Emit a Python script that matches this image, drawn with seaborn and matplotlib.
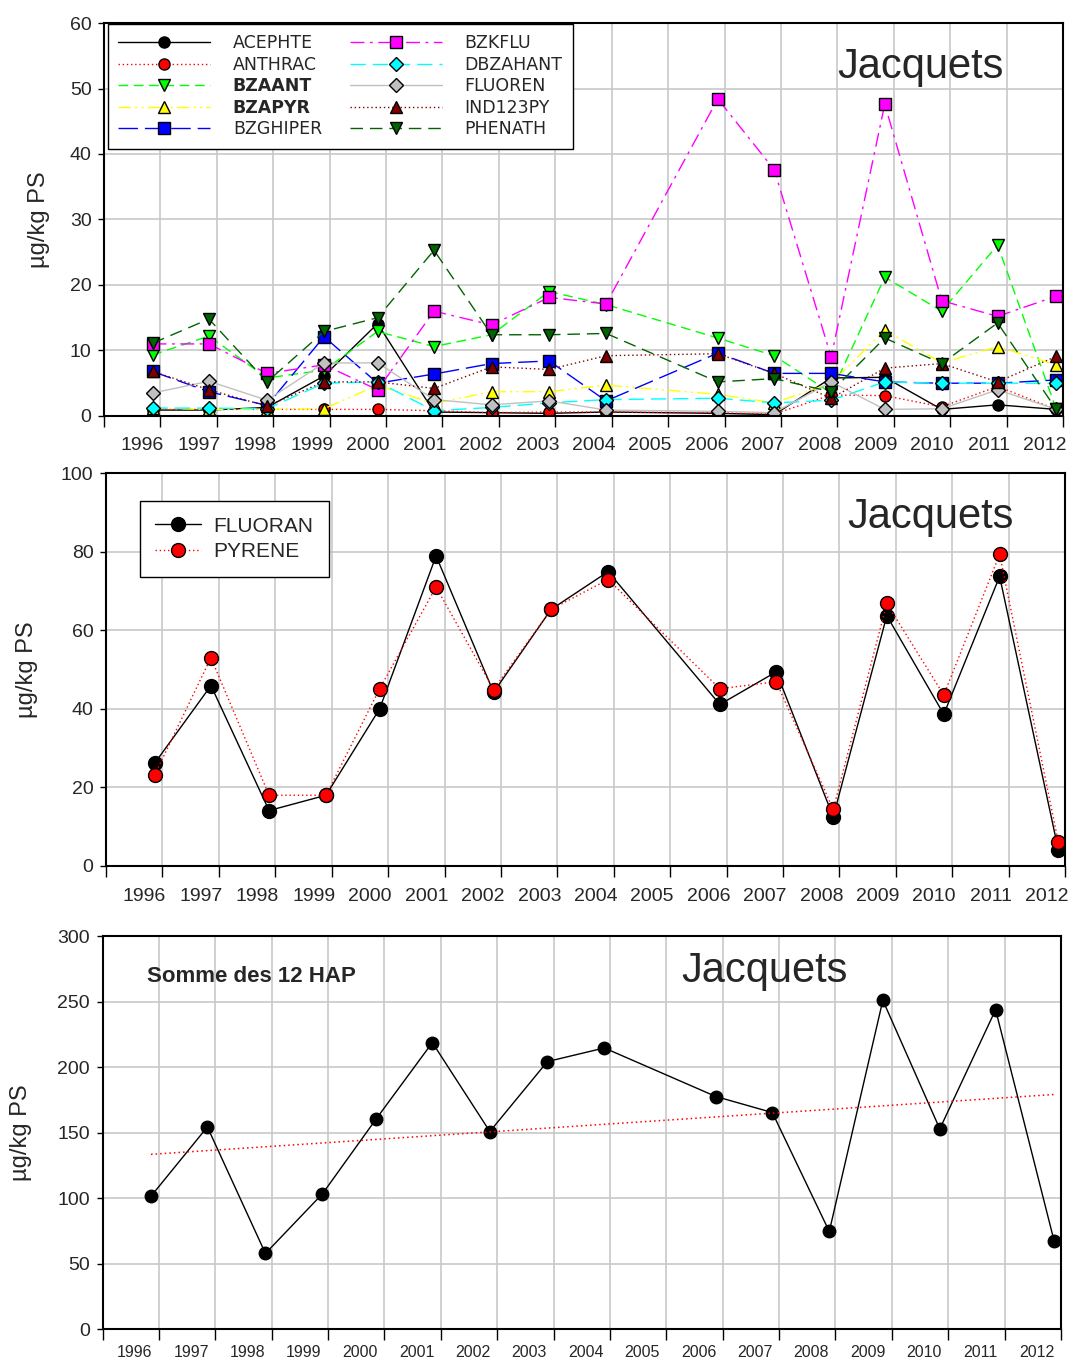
import numpy as np
import matplotlib
matplotlib.use("Agg")
import matplotlib.pyplot as plt
import seaborn as sns

# ================= Data ================= #
# sampling dates (fractional year), one campaign per year, no 2005
dates = [1996.86, 1997.86, 1998.89, 1999.90, 2000.85, 2001.85, 2002.87, 2003.89,
         2004.90, 2006.88, 2007.88, 2008.89, 2009.84, 2010.85, 2011.84, 2012.88]
year_labels = [str(y) for y in range(1996, 2013)]

# top panel (µg/kg PS)
acephte = [0.9, 0.9, 1.3, 6.1, 14.1, 0.6, 0.5, 0.4, 0.6, 0.4, 0.2, 5.8, 5.9, 1.0, 1.7, 1.0]
anthrac = [1.0, 1.0, 1.0, 1.0, 1.0, 0.8, 0.5, 0.6, 0.6, 0.5, 0.3, 3.2, 3.1, 1.4, 4.5, 1.0]
bzaant = [9.3, 12.2, 5.8, 7.0, 12.9, 10.6, 12.4, 19.0, 17.0, 11.9, 9.2, 3.5, 21.2, 16.0, 26.1, 1.0]
bzapyr = [1.2, 1.0, 1.0, 1.1, 4.7, 1.9, 3.7, 3.7, 4.7, 3.3, 2.0, 5.0, 13.1, 8.1, 10.6, 7.8]
bzghiper = [6.8, 3.7, 1.6, 12.1, 5.0, 6.4, 8.0, 8.4, 2.3, 9.6, 6.5, 6.5, 5.2, 5.0, 5.0, 5.5]
bzkflu = [11.0, 11.0, 6.5, 7.8, 4.0, 16.0, 13.9, 18.1, 17.1, 48.4, 37.6, 9.0, 47.6, 17.6, 15.2, 18.3]
dbzahant = [1.2, 1.2, 1.1, 5.0, 5.2, 0.8, 1.3, 2.0, 2.5, 2.7, 2.0, 2.4, 5.2, 5.0, 5.0, 5.0]
fluoren = [3.5, 5.3, 2.4, 8.1, 8.1, 2.5, 1.7, 2.3, 0.9, 0.7, 0.5, 5.2, 1.0, 1.1, 4.0, 1.0]
ind123py = [6.8, 4.0, 1.5, 5.2, 5.2, 4.2, 7.5, 7.1, 9.2, 9.5, 6.5, 2.7, 7.3, 8.0, 5.2, 9.1]
phenath = [11.1, 14.8, 5.2, 12.9, 15.0, 25.3, 12.4, 12.4, 12.6, 5.2, 5.7, 3.7, 11.9, 8.0, 14.2, 1.0]

# middle panel
fluoran = [26.1, 45.9, 14.1, 18.0, 40.0, 78.9, 44.2, 65.3, 74.9, 41.1, 49.4, 12.5, 63.7, 38.6, 73.7, 4.1]
pyrene = [23.1, 53.0, 18.0, 18.0, 45.1, 71.0, 44.9, 65.3, 72.9, 45.1, 46.9, 14.4, 66.8, 43.5, 79.3, 6.1]

# bottom panel: sum of the 12 PAH
somme = [101.4, 154.3, 57.7, 103.2, 160.2, 218.7, 150.8, 204.2, 214.6, 177.5, 165.3, 74.5,
         251.0, 152.8, 243.8, 66.9]

# ================= Styles ================= #
top_series = [
    ("ACEPHTE", acephte, "black", "o", "-", 8),
    ("ANTHRAC", anthrac, "#ff0000", "o", (0, (1, 2)), 8),
    ("BZAANT", bzaant, "#00ff00", "v", (0, (7, 4)), 9),
    ("BZAPYR", bzapyr, "#ffff00", "^", (0, (9, 3, 1.5, 3, 1.5, 3)), 9),
    ("BZGHIPER", bzghiper, "#0000ff", "s", (0, (14, 5)), 8),
    ("BZKFLU", bzkflu, "#ff00ff", "s", (0, (10, 4, 2, 4)), 8),
    ("DBZAHANT", dbzahant, "#00ffff", "D", (0, (11, 5)), 7),
    ("FLUOREN", fluoren, "#c0c0c0", "D", "-", 7),
    ("IND123PY", ind123py, "#800000", "^", (0, (1, 2)), 9),
    ("PHENATH", phenath, "#006400", "v", (0, (9, 5)), 9),
]

sns.set_style("white")
plt.rcParams["font.family"] = ["Liberation Sans", "DejaVu Sans"]
grid_c = "#c8c8c8"


def style_axis(ax, ymax, ystep, label_off, xfs, xpad):
    ax.set_xlim(1996, 2013)
    ax.set_ylim(0, ymax)
    ax.set_xticks(np.arange(1996, 2014))
    ax.set_xticklabels([])
    ax.set_xticks(np.arange(1996, 2013) + label_off, year_labels, minor=True)
    ax.set_yticks(np.arange(0, ymax + 1, ystep))
    ax.tick_params(axis="x", which="major", direction="out", length=8, width=1,
                   color="black", bottom=True)
    ax.tick_params(axis="x", which="minor", length=0, labelsize=xfs, pad=xpad)
    ax.tick_params(axis="y", direction="out", length=4, width=1, color="black",
                   labelsize=14, pad=5, left=True)
    ax.grid(True, which="major", color=grid_c, linewidth=1.2)
    ax.set_axisbelow(True)
    for s in ax.spines.values():
        s.set_color("black")
        s.set_linewidth(1.5)
    ax.set_xlabel("")
    ax.set_ylabel("µg/kg PS", fontsize=17)


fig = plt.figure(figsize=(10.7, 13.62), dpi=100)
ax1 = fig.add_axes([0.0972, 0.6946, 0.8963, 0.2885])
ax2 = fig.add_axes([0.0991, 0.3642, 0.8963, 0.2885])
ax3 = fig.add_axes([0.0958, 0.0242, 0.8958, 0.2885])

# ================= Top panel ================= #
for name, vals, col, mk, ls, ms in top_series:
    sns.lineplot(x=dates, y=vals, ax=ax1, color=col, marker=mk, markersize=ms,
                 markeredgecolor="black", markeredgewidth=1, linestyle=ls,
                 linewidth=1, label=name, sort=False, estimator=None)
style_axis(ax1, 60, 10, 0.68, 14, 15)
ax1.yaxis.set_label_coords(-0.056, 0.5)
leg = ax1.legend(loc="upper left", bbox_to_anchor=(0.004, 0.998), ncol=2,
                 prop={"family": "DejaVu Sans", "size": 12.5}, handlelength=5.3,
                 handletextpad=1.3, columnspacing=1.6, labelspacing=0.2,
                 borderpad=0.6, borderaxespad=0, fancybox=False, framealpha=1,
                 edgecolor="black", numpoints=1)
leg.get_frame().set_linewidth(1)
for i in (2, 3):
    leg.get_texts()[i].set_fontweight("bold")
ax1.text(0.851, 0.888, "Jacquets", transform=ax1.transAxes, fontsize=30,
         ha="center", va="center")

# ================= Middle panel ================= #
sns.lineplot(x=dates, y=fluoran, ax=ax2, color="black", marker="o", markersize=10,
             markeredgecolor="black", markeredgewidth=1, linestyle="-", linewidth=1,
             label="FLUORAN", sort=False, estimator=None)
sns.lineplot(x=dates, y=pyrene, ax=ax2, color="#ff0000", marker="o", markersize=10,
             markeredgecolor="black", markeredgewidth=1, linestyle=(0, (1, 2)),
             linewidth=1, label="PYRENE", sort=False, estimator=None)
style_axis(ax2, 100, 20, 0.68, 14, 16)
ax2.yaxis.set_label_coords(-0.071, 0.5)
leg2 = ax2.legend(loc="upper left", bbox_to_anchor=(0.035, 0.929), fontsize=15,
                  handlelength=2.2, handletextpad=0.6, labelspacing=0.32,
                  borderpad=0.75, borderaxespad=0, fancybox=False, framealpha=1,
                  edgecolor="black", numpoints=1)
leg2.get_frame().set_linewidth(1)
ax2.text(0.86, 0.888, "Jacquets", transform=ax2.transAxes, fontsize=30,
         ha="center", va="center")

# ================= Bottom panel ================= #
sns.lineplot(x=dates, y=somme, ax=ax3, color="black", marker="o", markersize=9,
             markeredgecolor="black", markeredgewidth=1, linestyle="-", linewidth=1,
             sort=False, estimator=None)
# linear trend over the sampling years
yr = np.array([int(d) for d in dates])
coef = np.polyfit(yr - 1996, somme, 1)
trend = np.polyval(coef, yr - 1996)
sns.lineplot(x=[dates[0], dates[-1]], y=[trend[0], trend[-1]], ax=ax3, color="#ff0000",
             linestyle=(0, (1, 2)), linewidth=1.1, sort=False, estimator=None)
style_axis(ax3, 300, 50, 0.57, 11.5, 11.5)
ax3.yaxis.set_label_coords(-0.0735, 0.5)
ax3.text(0.046, 0.898, "Somme des 12 HAP", transform=ax3.transAxes, fontsize=16,
         fontweight="bold", ha="left", va="center")
ax3.text(0.691, 0.911, "Jacquets", transform=ax3.transAxes, fontsize=30,
         ha="center", va="center")

fig.savefig("out.png", dpi=100)
